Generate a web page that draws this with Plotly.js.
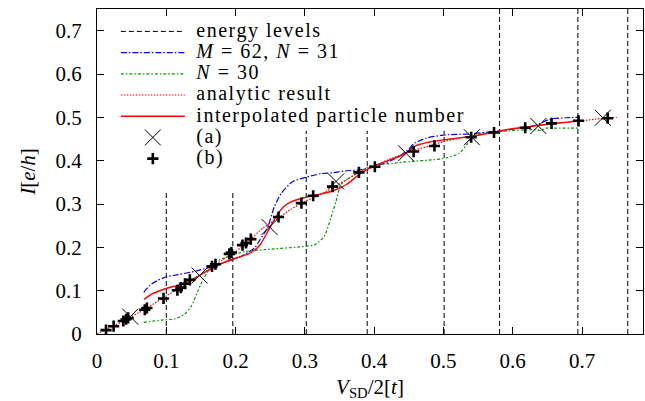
<!DOCTYPE html>
<html>
<head>
<meta charset="utf-8">
<script src="https://cdn.plot.ly/plotly-3.0.1.min.js"></script>
<style>html,body{margin:0;padding:0;background:#fff;}#chart{width:645px;height:401px;}</style>
</head>
<body>
<div id="chart"></div>
<script>
// ---- data ----
var energyLevels = [0.100, 0.196, 0.302, 0.390, 0.501, 0.581, 0.694, 0.766];
var levelTops    = [0.326, 0.326, 0.469, 0.469, 0.469, 0.75, 0.75, 0.75];

var blueX = [0.0675, 0.076, 0.088, 0.10, 0.117, 0.141, 0.165, 0.189, 0.208, 0.227, 0.235, 0.246, 0.256, 0.266, 0.2825, 0.302, 0.323, 0.340, 0.357, 0.379, 0.393, 0.408, 0.427, 0.446, 0.458, 0.475, 0.499, 0.5375, 0.571, 0.605, 0.634, 0.653, 0.677, 0.696];
var blueY = [0.096, 0.112, 0.124, 0.132, 0.137, 0.1446, 0.155, 0.168, 0.179, 0.198, 0.217, 0.245, 0.294, 0.325, 0.352, 0.362, 0.370, 0.372, 0.376, 0.379, 0.383, 0.390, 0.402, 0.421, 0.440, 0.452, 0.459, 0.462, 0.467, 0.474, 0.482, 0.4955, 0.499, 0.500];

var greenX = [0.0675, 0.0926, 0.112, 0.126, 0.136, 0.1455, 0.153, 0.1696, 0.189, 0.213, 0.244, 0.292, 0.314, 0.328, 0.338, 0.345, 0.352, 0.364, 0.38, 0.393, 0.427, 0.451, 0.4845, 0.504, 0.523, 0.535, 0.545, 0.562, 0.595, 0.629, 0.64, 0.648, 0.663, 0.694];
var greenY = [0.027, 0.032, 0.035, 0.045, 0.064, 0.0986, 0.1255, 0.164, 0.179, 0.190, 0.195, 0.201, 0.206, 0.225, 0.271, 0.306, 0.345, 0.360, 0.375, 0.387, 0.394, 0.398, 0.402, 0.406, 0.417, 0.440, 0.459, 0.464, 0.469, 0.472, 0.470, 0.475, 0.475, 0.475];

var analyticX = [0, 0.02, 0.04, 0.06, 0.08, 0.10, 0.12, 0.14, 0.16, 0.18, 0.20, 0.22, 0.24, 0.26, 0.28, 0.30, 0.32, 0.34, 0.36, 0.38, 0.40, 0.42, 0.44, 0.46, 0.48, 0.50, 0.52, 0.54, 0.56, 0.58, 0.60, 0.62, 0.64, 0.66, 0.68, 0.70, 0.72, 0.74, 0.75];
var analyticY = [0, 0.016, 0.031, 0.049, 0.068, 0.088, 0.107, 0.127, 0.148, 0.170, 0.190, 0.217, 0.245, 0.266, 0.288, 0.306, 0.320, 0.337, 0.356, 0.375, 0.388, 0.402, 0.414, 0.425, 0.434, 0.444, 0.451, 0.456, 0.461, 0.467, 0.473, 0.478, 0.482, 0.486, 0.489, 0.492, 0.496, 0.499, 0.500];

var interpX = [0.068, 0.08, 0.10, 0.12, 0.14, 0.16, 0.18, 0.20, 0.22, 0.235, 0.25, 0.26, 0.27, 0.28, 0.30, 0.32, 0.34, 0.36, 0.38, 0.40, 0.42, 0.44, 0.45, 0.46, 0.48, 0.50, 0.52, 0.54, 0.56, 0.58, 0.60, 0.62, 0.64, 0.66, 0.68, 0.695];
var interpY = [0.080, 0.093, 0.105, 0.114, 0.128, 0.146, 0.163, 0.175, 0.186, 0.205, 0.247, 0.275, 0.295, 0.305, 0.315, 0.322, 0.330, 0.345, 0.370, 0.388, 0.400, 0.412, 0.422, 0.434, 0.443, 0.448, 0.452, 0.456, 0.462, 0.468, 0.474, 0.478, 0.482, 0.486, 0.489, 0.492];

var aX = [0.048, 0.148, 0.249, 0.345, 0.446, 0.541, 0.637, 0.730];
var aY = [0.040, 0.135, 0.247, 0.352, 0.417, 0.454, 0.480, 0.499];

var bX = [0.013, 0.024, 0.038, 0.042, 0.045, 0.069, 0.072, 0.096, 0.116, 0.121, 0.127, 0.134, 0.166, 0.171, 0.191, 0.194, 0.210, 0.215, 0.222, 0.262, 0.295, 0.312, 0.340, 0.378, 0.401, 0.457, 0.487, 0.540, 0.573, 0.618, 0.656, 0.695, 0.737];
var bY = [0.009, 0.018, 0.030, 0.034, 0.037, 0.056, 0.060, 0.082, 0.101, 0.107, 0.116, 0.125, 0.156, 0.161, 0.185, 0.188, 0.205, 0.210, 0.219, 0.270, 0.302, 0.319, 0.340, 0.373, 0.386, 0.421, 0.434, 0.454, 0.465, 0.476, 0.486, 0.492, 0.498];

var xTicks = [0, 0.1, 0.2, 0.3, 0.4, 0.5, 0.6, 0.7];
var yTicks = [0, 0.1, 0.2, 0.3, 0.4, 0.5, 0.6, 0.7];

var names = ['energy levels', '<i>M</i> = 62, <i>N</i> = 31', '<i>N</i> = 30', 'analytic result', 'interpolated particle number', '(a)', '(b)'];

// ---- build traces ----
var FONT = 'Liberation Serif';
function lg(t){ return '<span style="font-size:20px;letter-spacing:1.5px">&nbsp;' + t + '</span>'; }

var levX = [], levY = [];
energyLevels.forEach(function(e, i){ levX.push(e, e, null); levY.push(0, levelTops[i], null); });

var traces = [
  {x: levX, y: levY, mode: 'lines', name: lg(names[0]), line: {color: '#000', width: 1, dash: '5px,3px'}},
  {x: blueX, y: blueY, mode: 'lines', name: lg(names[1]), line: {color: '#0000ff', width: 1.2, dash: '6px,2px,1.5px,2px', shape: 'spline', smoothing: 0.6}},
  {x: greenX, y: greenY, mode: 'lines', name: lg(names[2]), line: {color: '#009900', width: 1.2, dash: '3px,2px,1.5px,2px', shape: 'spline', smoothing: 0.6}},
  {x: analyticX, y: analyticY, mode: 'lines', name: lg(names[3]), line: {color: '#ff0000', width: 1.2, dash: '1.5px,1.5px', shape: 'spline', smoothing: 0.6}},
  {x: interpX, y: interpY, mode: 'lines', name: lg(names[4]), line: {color: '#ff0000', width: 1.4, shape: 'spline', smoothing: 0.6}},
  {x: aX, y: aY, mode: 'markers', name: lg(names[5]), marker: {symbol: 'x-thin', size: 16, color: '#000', line: {color: '#000', width: 1}}},
  {x: bX, y: bY, mode: 'markers', name: lg(names[6]), marker: {symbol: 'cross-thin', size: 8, color: '#000', line: {color: '#000', width: 2.6}}}
];

var axisCommon = {
  showgrid: false, zeroline: false, showline: true, linecolor: '#000', linewidth: 1,
  mirror: 'ticks', ticks: 'inside', ticklen: 7, tickwidth: 1, tickcolor: '#000',
  tickfont: {family: FONT, size: 21, color: '#000'}
};

var layout = {
  width: 645, height: 401,
  margin: {l: 97, r: 2, t: 9, b: 66.5},
  paper_bgcolor: '#fff', plot_bgcolor: '#fff',
  font: {family: FONT, color: '#000'},
  showlegend: true,
  legend: {x: 0.0345, y: 0.979, xanchor: 'left', yanchor: 'top', bgcolor: 'rgba(0,0,0,0)', borderwidth: 0,
           font: {family: FONT, size: 14, color: '#000'}, itemwidth: 64, tracegroupgap: 0},
  xaxis: Object.assign({}, axisCommon, {range: [0, 0.788], tickvals: xTicks, ticklabelstandoff: 8,
           title: {text: '<i>V</i><sub>SD</sub>/2[<i>t</i>]', font: {family: FONT, size: 21, color: '#000'}, standoff: 12}}),
  yaxis: Object.assign({}, axisCommon, {range: [0, 0.75], tickvals: yTicks, ticklabelstandoff: 10,
           title: {text: '<i>I</i>[<i>e</i>/<i>h</i>]', font: {family: FONT, size: 21, color: '#000'}, standoff: 14}})
};

Plotly.newPlot('chart', traces, layout, {staticPlot: true, displayModeBar: false});
</script>
</body>
</html>
